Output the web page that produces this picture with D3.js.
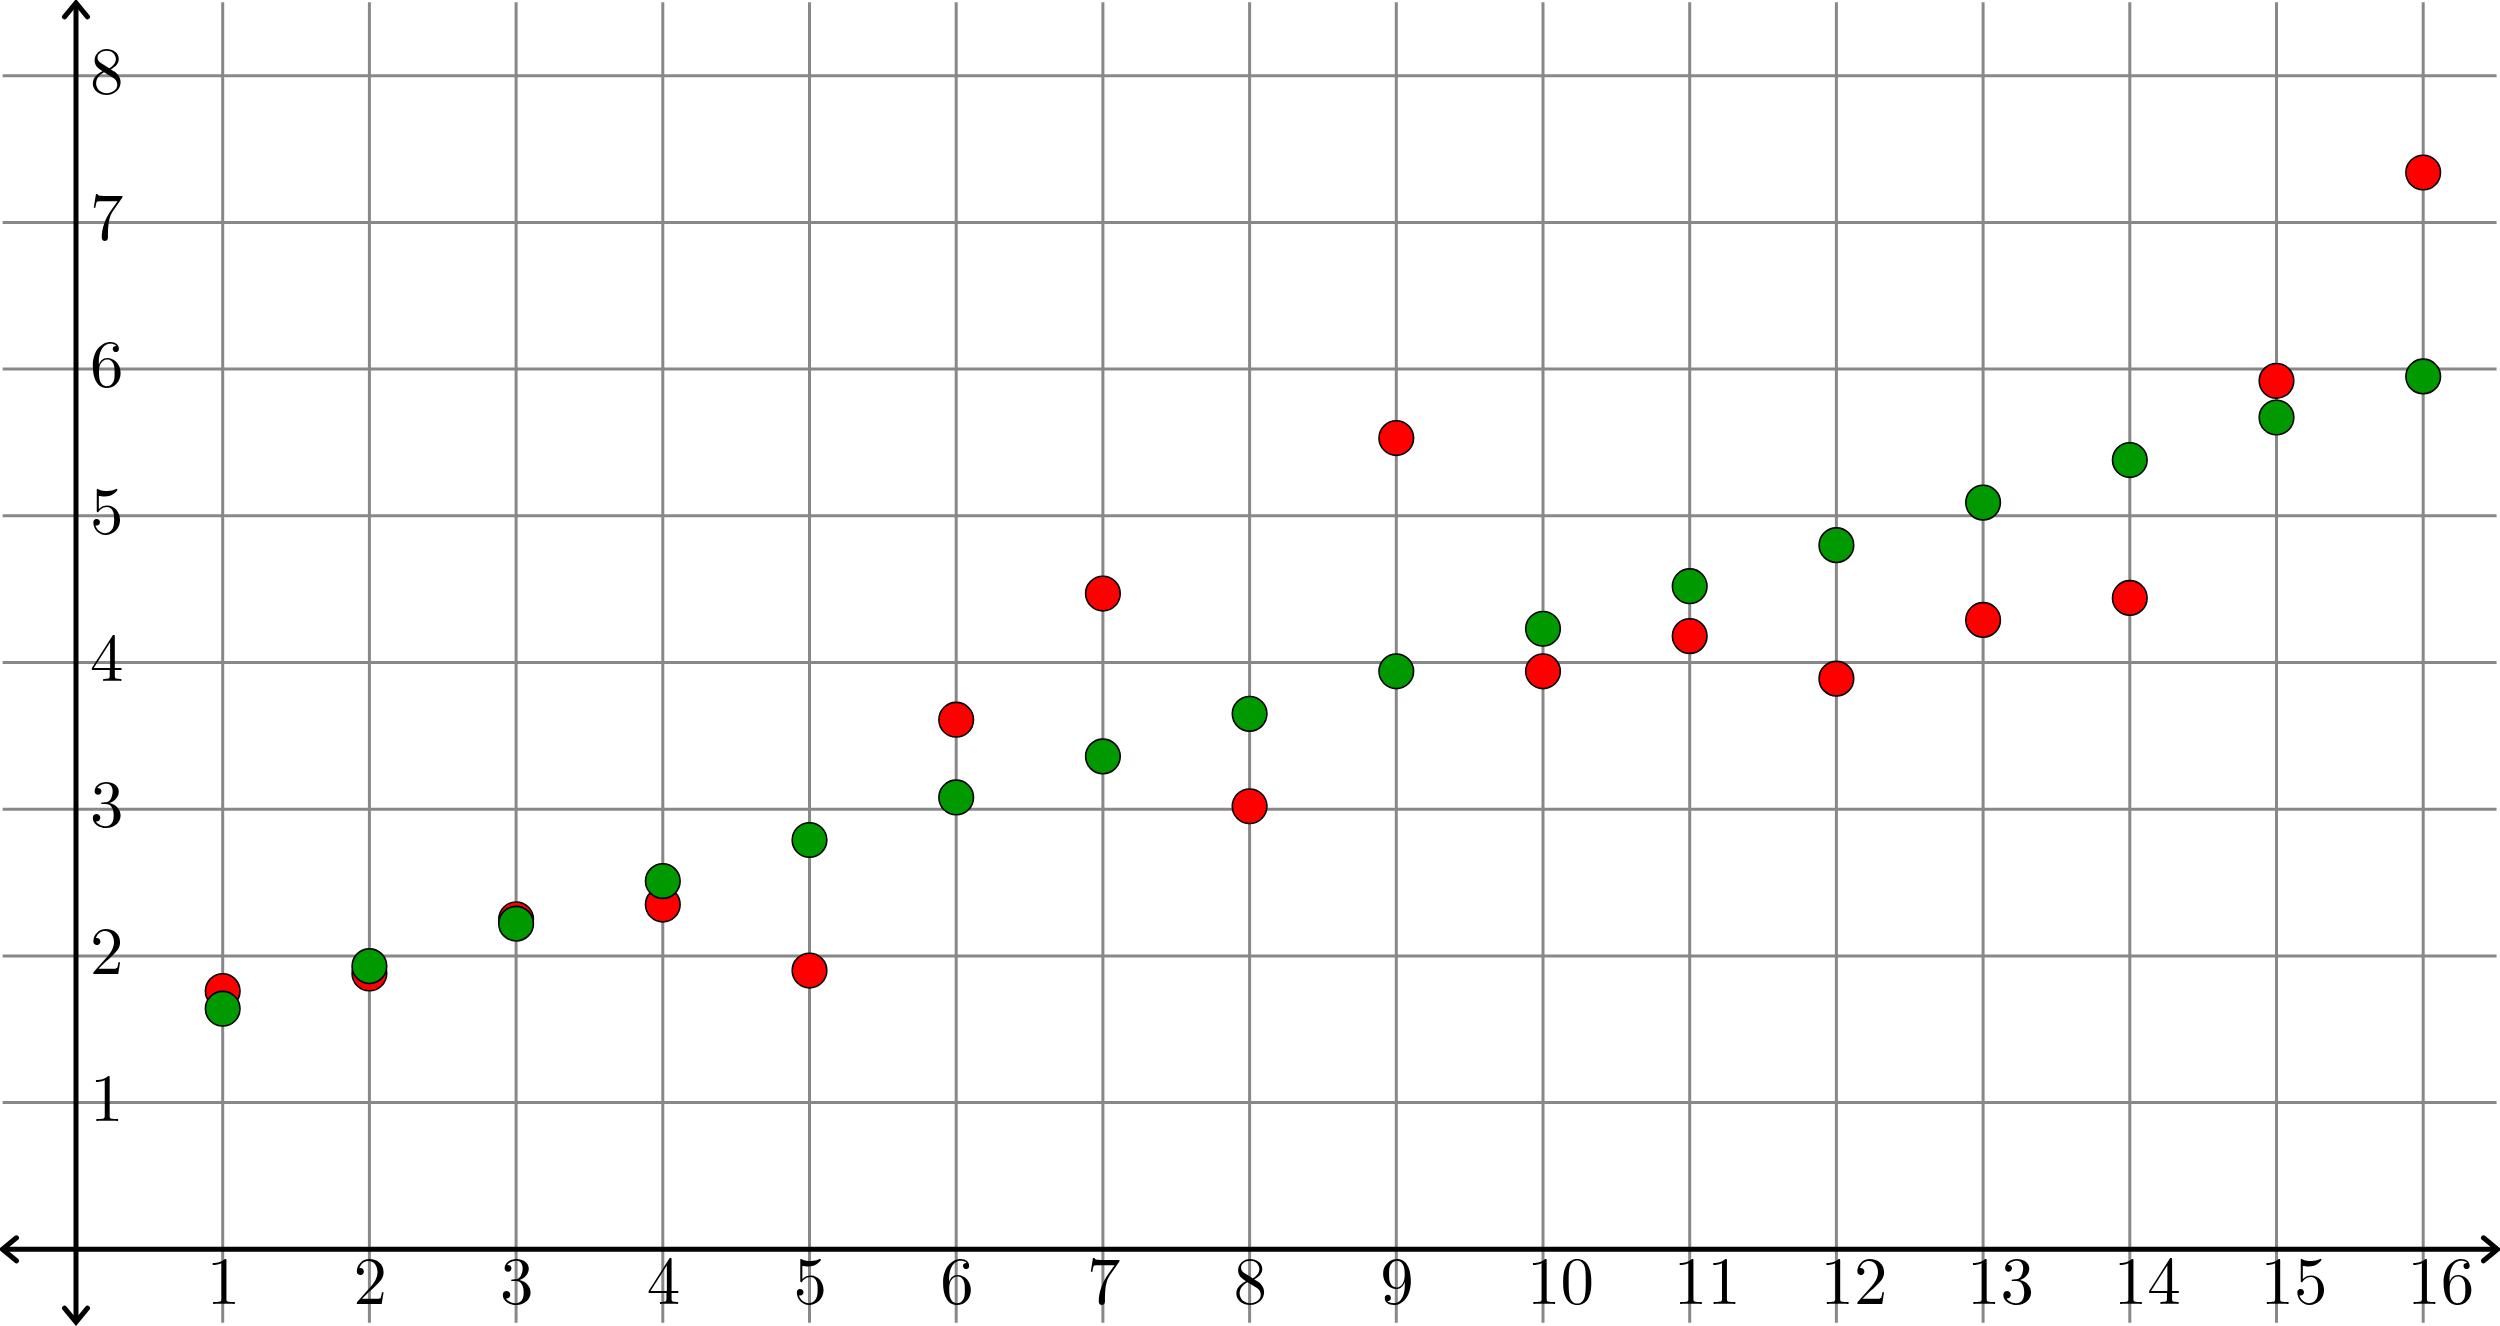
<!DOCTYPE html>
<html>
<head>
<meta charset="utf-8">
<script src="https://cdn.jsdelivr.net/npm/d3@7"></script>
<style>
  html, body { margin: 0; padding: 0; background: #fff; }
  svg { display: block; }
  text { font-family: "Latin Modern Roman", "CMU Serif", "Liberation Serif", serif; fill: #000; }
</style>
</head>
<body>
<svg id="chart" width="2500" height="1326"></svg>
<script>
const xCategories = [1, 2, 3, 4, 5, 6, 7, 8, 9, 10, 11, 12, 13, 14, 15, 16];
const redValues   = [1.76, 1.88, 2.25, 2.35, 1.90, 3.61, 4.47, 3.02, 5.53, 3.94, 4.18, 3.89, 4.29, 4.44, 5.92, 7.34];
const greenValues = [1.64, 1.93, 2.22, 2.51, 2.79, 3.08, 3.36, 3.65, 3.94, 4.23, 4.52, 4.80, 5.09, 5.38, 5.67, 5.95];
const xTickLabels = ["1","2","3","4","5","6","7","8","9","10","11","12","13","14","15","16"];
const yTicks = [1, 2, 3, 4, 5, 6, 7, 8];
const yTickLabels = ["1","2","3","4","5","6","7","8"];

const svg = d3.select("#chart");
const x = d3.scaleLinear().domain([0, 16]).range([76, 76 + 16 * 146.7]);
const y = d3.scaleLinear().domain([0, 8]).range([1249.3, 1249.3 - 8 * 146.7]);

const gridColor = "#888888";
const grid = svg.append("g");
// vertical grid lines
grid.selectAll("line.v").data(xCategories).join("line")
  .attr("class", "v")
  .attr("x1", d => x(d)).attr("x2", d => x(d))
  .attr("y1", y(8.5)).attr("y2", y(-0.5))
  .attr("stroke", gridColor).attr("stroke-width", 3);
// horizontal grid lines
grid.selectAll("line.h").data(yTicks).join("line")
  .attr("class", "h")
  .attr("y1", d => y(d)).attr("y2", d => y(d))
  .attr("x1", x(-0.5)).attr("x2", x(16.5))
  .attr("stroke", gridColor).attr("stroke-width", 3);

// axes
const axes = svg.append("g").attr("stroke", "#000").attr("fill", "none").attr("stroke-width", 5);
const xL = x(-0.515), xR = x(16.52), yT = y(8.51), yB = y(-0.51);
axes.append("line").attr("x1", xL + 2).attr("x2", xR - 2).attr("y1", y(0)).attr("y2", y(0));
axes.append("line").attr("x1", x(0)).attr("x2", x(0)).attr("y1", yT + 2).attr("y2", yB - 2);
const aL = 16, aW = 11.5;
const arrow = (pts) => "M" + pts.map(p => p.join(",")).join("L");
axes.append("path").attr("d", arrow([[xL + aL, y(0) - aW], [xL + 2, y(0)], [xL + aL, y(0) + aW]]));
axes.append("path").attr("d", arrow([[xR - aL, y(0) - aW], [xR - 2, y(0)], [xR - aL, y(0) + aW]]));
axes.append("path").attr("d", arrow([[x(0) - aW, yT + aL], [x(0), yT + 2], [x(0) + aW, yT + aL]]));
axes.append("path").attr("d", arrow([[x(0) - aW, yB - aL], [x(0), yB - 2], [x(0) + aW, yB - aL]]));
axes.selectAll("path").attr("stroke-linejoin", "miter").attr("stroke-linecap", "round");

// tick labels
svg.append("g").selectAll("text").data(xCategories).join("text")
  .attr("x", d => x(d) - 16)
  .attr("y", y(0) + 55)
  .attr("text-anchor", "start")
  .attr("font-size", 67)
  .text((d, i) => xTickLabels[i]);

svg.append("g").selectAll("text").data(yTicks).join("text")
  .attr("x", x(0) + 14)
  .attr("y", d => y(d) + 18)
  .attr("text-anchor", "start")
  .attr("font-size", 67)
  .text((d, i) => yTickLabels[i]);

// points: red first, green on top
const pts = svg.append("g");
pts.selectAll("circle.red").data(xCategories).join("circle")
  .attr("class", "red")
  .attr("cx", d => x(d)).attr("cy", (d, i) => y(redValues[i]))
  .attr("r", 17.3)
  .attr("fill", "#ff0000").attr("stroke", "#000").attr("stroke-width", 1.6);
pts.selectAll("circle.green").data(xCategories).join("circle")
  .attr("class", "green")
  .attr("cx", d => x(d)).attr("cy", (d, i) => y(greenValues[i]))
  .attr("r", 17.3)
  .attr("fill", "#009900").attr("stroke", "#000").attr("stroke-width", 1.6);
</script>
</body>
</html>
